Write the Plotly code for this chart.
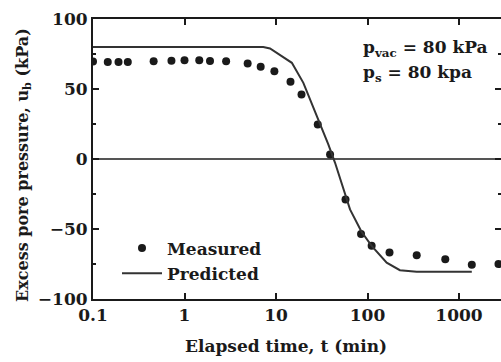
import plotly.graph_objects as go

# Measured data
meas_t = [0.1, 0.145, 0.19, 0.24, 0.46, 0.72, 1.0, 1.45, 1.9, 2.85, 4.9, 6.8, 9.6,
          14.4, 19.0, 28.6, 39.0, 57.5, 85.0, 111.0, 174.0, 345.0, 708.0, 1380.0, 2700.0]
meas_u = [69.6, 69.3, 69.3, 69.3, 69.8, 70.2, 70.5, 70.6, 70.0, 69.9, 68.2, 65.9, 62.7,
          55.1, 46.1, 24.6, 3.2, -29.0, -53.6, -62.0, -66.8, -68.7, -71.6, -75.5, -75.0]

# Predicted curve
pred_t = [0.1, 7.26, 8.6, 14.9, 19.9, 24.5, 30.3, 37.3, 44.2, 64.4, 86.0, 111.0, 162.0,
          226.0, 345.0, 1380.0]
pred_u = [80.0, 80.0, 79.0, 68.7, 54.4, 40.0, 26.0, 10.4, -2.7, -36.0, -52.0, -62.0, -74.0,
          -79.4, -80.5, -80.5]

x_tickvals = [0.1, 1, 10, 100, 1000]
x_ticktext = ["0.1", "1", "10", "100", "1000"]
y_tickvals = [-100, -50, 0, 50, 100]

FONT = "DejaVu Serif"
INK = "#1a1a1a"
TXT = dict(family=FONT, size=17, color=INK, weight="bold")

W, H = 501, 362
PL, PR, PT, PB = 93, 501, 19, 299  # plot area in page pixels

fig = go.Figure()
fig.add_trace(go.Scatter(x=meas_t, y=meas_u, mode="markers", name="Measured",
                         marker=dict(color=INK, size=8)))
fig.add_trace(go.Scatter(x=pred_t, y=pred_u, mode="lines", name="Predicted",
                         line=dict(color="#333333", width=2)))

def px_x(px):
    return (px - PL) / float(PR - PL)

def px_y(py):
    return (PB - py) / float(PB - PT)

fig.add_annotation(x=px_x(361), y=px_y(49), xref="paper", yref="paper", xanchor="left",
                   yanchor="middle", showarrow=False,
                   text="p<sub>vac</sub> = 80 kPa", font=dict(TXT, size=17))
fig.add_annotation(x=px_x(361), y=px_y(73), xref="paper", yref="paper", xanchor="left",
                   yanchor="middle", showarrow=False,
                   text="p<sub>s</sub> = 80 kpa", font=dict(TXT, size=17))
# axis titles
fig.add_annotation(x=px_x(286), y=px_y(346), xref="paper", yref="paper", xanchor="center",
                   yanchor="middle", showarrow=False,
                   text="Elapsed time, t (min)", font=dict(TXT, size=17))
fig.add_annotation(x=px_x(24), y=px_y(165), xref="paper", yref="paper", xanchor="center",
                   yanchor="middle", showarrow=False, textangle=-90,
                   text="Excess pore pressure, u<sub>b</sub> (kPa)", font=dict(TXT, size=16))

fig.update_layout(
    width=W, height=H,
    margin=dict(l=PL, r=W - PR, t=PT, b=H - PB, autoexpand=False),
    paper_bgcolor="white", plot_bgcolor="white",
    font=TXT,
    showlegend=True,
    legend=dict(x=px_x(117), y=px_y(261), xanchor="left", yanchor="middle",
                bgcolor="rgba(0,0,0,0)", font=dict(TXT, size=17),
                itemwidth=40, tracegroupgap=0),
    xaxis=dict(type="log", range=[-1, 3.459], tickvals=x_tickvals, ticktext=x_ticktext,
               ticks="inside", ticklen=6, tickwidth=1.5, tickcolor=INK,
               showline=True, linecolor=INK, linewidth=2, mirror="ticks",
               showgrid=False, zeroline=False, automargin=False, tickfont=TXT),
    yaxis=dict(range=[-100, 100], tickvals=y_tickvals,
               ticks="inside", ticklen=6, tickwidth=1.5, tickcolor=INK,
               minor=dict(dtick=25, ticks="inside", ticklen=3, tickcolor=INK, tickwidth=1.5),
               showline=True, linecolor=INK, linewidth=2, mirror="ticks",
               showgrid=False, zeroline=True, zerolinecolor="#555555", zerolinewidth=1.5,
               automargin=False, tickfont=TXT),
)

fig.write_html("out.html", config={"displayModeBar": False},
               post_script="document.body.style.margin='0';document.body.style.overflow='hidden';")
